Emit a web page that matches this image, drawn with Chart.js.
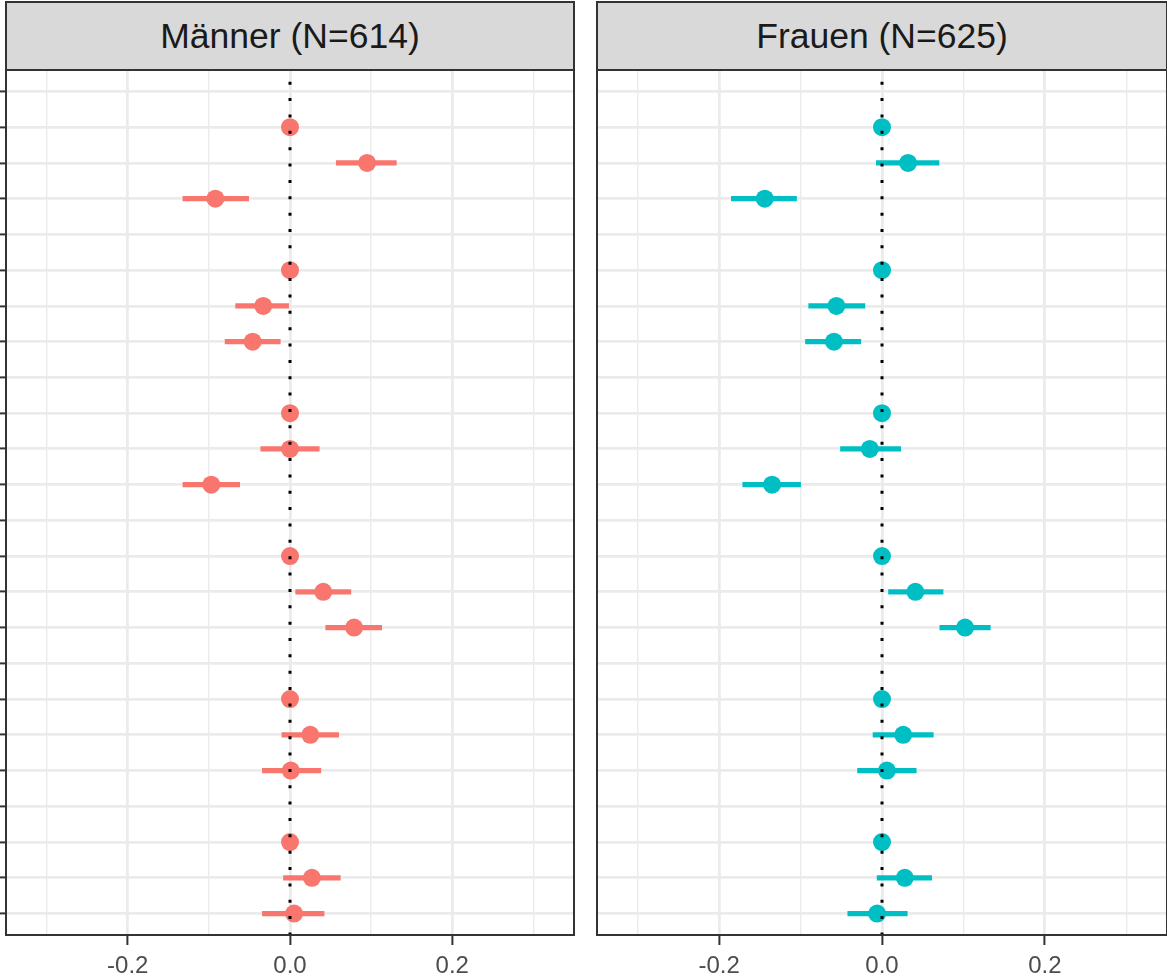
<!DOCTYPE html>
<html lang="de">
<head>
<meta charset="utf-8">
<title>Männer / Frauen</title>
<script src="https://cdn.jsdelivr.net/npm/chart.js@4.4.0/dist/chart.umd.min.js"></script>
<style>
    body {
        margin: 0;
        background: #fff;
        width: 1167px;
        height: 980px;
        overflow: hidden;
        position: relative;
        font-family: "Liberation Sans", Arial, sans-serif;
    }
    .strip {
        position: absolute;
        top: 1px;
        height: 70px;
        box-sizing: border-box;
        border: 2px solid #333;
        background: #d9d9d9;
        color: #1a1a1a;
        font-size: 35.5px;
        line-height: 66px;
        text-align: center;
        white-space: nowrap;
    }
    #stripM { left: 5px; width: 570px; }
    #stripF { left: 596px; width: 572px; }
    canvas { position: absolute; top: 60px; }
    #chartM { left: -20px; }
    #chartF { left: 580px; }
</style>
</head>
<body>
<div class="strip" id="stripM"></div>
<div class="strip" id="stripF"></div>
<canvas id="chartM" width="610" height="920"></canvas>
<canvas id="chartF" width="630" height="920"></canvas>
<script>
// ---- DATEN ----
const panelTitel = ["Männer (N=614)", "Frauen (N=625)"];
const farben = ["#F8766D", "#00BFC4"];

// Zeilen von oben nach unten (Überschrift, Referenz, Stufe 2, Stufe 3)
const zeilen = [1, 2, 3, 4, 5, 6, 7, 8, 9, 10, 11, 12, 13, 14, 15, 16, 17, 18, 19, 20, 21, 22, 23, 24];

const xTicksHaupt = [-0.2, 0, 0.2];
const xTickLabels = ["-0.2", "0.0", "0.2"];
const xTicksNeben = [-0.3, -0.1, 0.1, 0.3];
const xBereich = [-0.35, 0.35];
const yBereich = [0.4, 24.6];
const nullLinie = 0;

// Männer
const schaetzerM = [null, 0, 0.095, -0.092, null, 0, -0.033, -0.046, null, 0, 0.000, -0.097,
                    null, 0, 0.041, 0.079, null, 0, 0.025, 0.001, null, 0, 0.027, 0.005];
const untenM = [null, null, 0.057, -0.132, null, null, -0.067, -0.080, null, null, -0.036, -0.132,
                null, null, 0.007, 0.044, null, null, -0.010, -0.034, null, null, -0.008, -0.034];
const obenM = [null, null, 0.131, -0.051, null, null, 0.000, -0.012, null, null, 0.036, -0.062,
               null, null, 0.075, 0.113, null, null, 0.060, 0.038, null, null, 0.062, 0.042];

// Frauen
const schaetzerF = [null, 0, 0.032, -0.144, null, 0, -0.056, -0.059, null, 0, -0.015, -0.135,
                    null, 0, 0.041, 0.102, null, 0, 0.026, 0.006, null, 0, 0.028, -0.006];
const untenF = [null, null, -0.007, -0.185, null, null, -0.090, -0.094, null, null, -0.051, -0.171,
                null, null, 0.008, 0.071, null, null, -0.011, -0.030, null, null, -0.006, -0.042];
const obenF = [null, null, 0.070, -0.105, null, null, -0.021, -0.026, null, null, 0.023, -0.100,
               null, null, 0.075, 0.133, null, null, 0.063, 0.042, null, null, 0.061, 0.031];

const schrift = "'Liberation Sans', Arial, sans-serif";
const xTicksAlle = [...xTicksHaupt, ...xTicksNeben].sort((a, b) => a - b);
const istHaupt = v => xTicksHaupt.includes(v);

// Rahmen um das Panel
const rahmen = {
    id: "rahmen",
    afterDraw(chart) {
        const { ctx, chartArea: a } = chart;
        ctx.save();
        ctx.strokeStyle = "#333";
        ctx.lineWidth = 2;
        ctx.strokeRect(a.left, a.top, a.right - a.left, a.bottom - a.top);
        ctx.restore();
    }
};

function panel(canvasId, schaetzer, unten, oben, farbe, mitYTicks, padding) {
    const punkte = [];
    const balken = [];
    zeilen.forEach((z, i) => {
        if (schaetzer[i] !== null) punkte.push({ x: schaetzer[i], y: z });
        if (unten[i] !== null) balken.push({ y: z, x: [unten[i], oben[i]] });
    });

    return new Chart(document.getElementById(canvasId), {
        type: "bar",
        data: {
            datasets: [
                {
                    type: "line",
                    data: [{ x: nullLinie, y: yBereich[0] }, { x: nullLinie, y: yBereich[1] }],
                    borderColor: "#000",
                    borderWidth: 3,
                    borderDash: [3, 13.36],
                    borderDashOffset: 4.6,
                    pointRadius: 0,
                    order: 0
                },
                {
                    type: "scatter",
                    data: punkte,
                    backgroundColor: farbe,
                    borderWidth: 0,
                    pointRadius: 9,
                    order: 1
                },
                {
                    type: "bar",
                    data: balken,
                    backgroundColor: farbe,
                    borderWidth: 0,
                    barThickness: 4.5,
                    grouped: false,
                    order: 2
                }
            ]
        },
        options: {
            indexAxis: "y",
            responsive: false,
            animation: false,
            layout: { padding: padding },
            plugins: { legend: { display: false }, tooltip: { enabled: false } },
            scales: {
                x: {
                    type: "linear",
                    min: xBereich[0],
                    max: xBereich[1],
                    afterBuildTicks: s => { s.ticks = xTicksAlle.map(v => ({ value: v })); },
                    afterFit: s => { s.height = 45; },
                    border: { display: false },
                    grid: {
                        color: "#ebebeb",
                        lineWidth: c => (c.tick && istHaupt(c.tick.value)) ? 2.8 : 1.4,
                        tickColor: c => (c.tick && istHaupt(c.tick.value)) ? "#333" : "rgba(0,0,0,0)",
                        tickWidth: 2,
                        tickLength: 10
                    },
                    ticks: {
                        autoSkip: false,
                        maxRotation: 0,
                        padding: 7,
                        color: "#4d4d4d",
                        font: { size: 24, family: schrift },
                        callback: v => istHaupt(v) ? xTickLabels[xTicksHaupt.indexOf(v)] : ""
                    }
                },
                y: {
                    type: "linear",
                    min: yBereich[0],
                    max: yBereich[1],
                    reverse: true,
                    offset: false,
                    afterBuildTicks: s => { s.ticks = zeilen.map(z => ({ value: z })); },
                    afterFit: s => { s.width = mitYTicks ? 6 : 0; },
                    border: { display: false },
                    grid: {
                        offset: false,
                        color: "#ebebeb",
                        lineWidth: 2.8,
                        drawTicks: mitYTicks,
                        tickColor: "#333",
                        tickWidth: 2,
                        tickLength: 6
                    },
                    ticks: { display: false }
                }
            }
        },
        plugins: [rahmen]
    });
}

document.getElementById("stripM").textContent = panelTitel[0];
document.getElementById("stripF").textContent = panelTitel[1];

// Panel-Flächen: links x 6..574, rechts x 597..1167, y 70..935
panel("chartM", schaetzerM, untenM, obenM, farben[0], true, { left: 20, right: 16, top: 10, bottom: 0 });
panel("chartF", schaetzerF, untenF, obenF, farben[1], false, { left: 17, right: 43, top: 10, bottom: 0 });
</script>
</body>
</html>
